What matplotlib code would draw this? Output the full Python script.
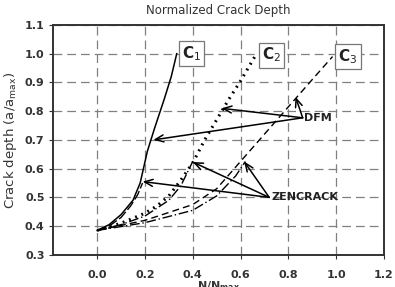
import matplotlib
matplotlib.use("Agg")
import matplotlib.pyplot as plt

# curve data
c1_x = [0, 0.05, 0.1, 0.15, 0.18, 0.21, 0.24, 0.28, 0.31, 0.333]
c1_y = [0.385, 0.405, 0.44, 0.49, 0.55, 0.66, 0.74, 0.84, 0.92, 1.0]
zen1_x = [0, 0.05, 0.1, 0.14, 0.17, 0.19]
zen1_y = [0.385, 0.40, 0.43, 0.47, 0.51, 0.55]

c2_x = [0, 0.1, 0.2, 0.25, 0.3, 0.35, 0.4, 0.45, 0.5, 0.55, 0.6, 0.667]
c2_y = [0.385, 0.41, 0.445, 0.47, 0.505, 0.56, 0.62, 0.70, 0.77, 0.84, 0.905, 1.0]
zen2_x = [0, 0.1, 0.2, 0.3, 0.35, 0.4]
zen2_y = [0.385, 0.405, 0.435, 0.49, 0.54, 0.625]

c3_x = [0, 0.2, 0.4, 0.5, 0.6, 0.7, 0.8, 0.9, 0.985]
c3_y = [0.385, 0.42, 0.475, 0.53, 0.625, 0.72, 0.815, 0.91, 0.99]
zen3_x = [0, 0.2, 0.4, 0.5, 0.58, 0.62]
zen3_y = [0.385, 0.412, 0.455, 0.505, 0.575, 0.625]

x_ticks = [0.0, 0.2, 0.4, 0.6, 0.8, 1.0, 1.2]
y_ticks = [0.3, 0.4, 0.5, 0.6, 0.7, 0.8, 0.9, 1.0, 1.1]

curve_labels = ["C$_1$", "C$_2$", "C$_3$"]
curve_label_pos = [(0.396, 1.0), (0.73, 0.995), (1.05, 0.99)]

dfm_tail = (0.86, 0.777)
dfm_heads = [(0.235, 0.70), (0.52, 0.81), (0.83, 0.85)]
zen_tail = (0.72, 0.50)
zen_heads = [(0.19, 0.555), (0.40, 0.623), (0.615, 0.625)]

fig = plt.figure(figsize=(3.95, 2.87), dpi=100)
ax = fig.add_axes([0.134, 0.112, 0.838, 0.801])

ax.plot(c1_x, c1_y, "-", color="black", lw=1.1)
ax.plot(zen1_x, zen1_y, color="black", lw=1.0, dashes=(7, 2))
ax.plot(c2_x, c2_y, color="black", lw=2.2, dashes=(0.6, 1.6))
ax.plot(zen2_x, zen2_y, color="black", lw=1.0, dashes=(7, 2, 1, 2))
ax.plot(c3_x, c3_y, color="black", lw=1.0, dashes=(5, 3))
ax.plot(zen3_x, zen3_y, color="black", lw=1.0, dashes=(7, 2, 1, 2))

for lab, (lx, ly) in zip(curve_labels, curve_label_pos):
    ax.text(lx, ly, lab, ha="center", va="center", fontsize=11, fontweight="bold",
            color="#222222",
            bbox=dict(boxstyle="square,pad=0.2", fc="white", ec="#777777", lw=0.9))

ax.text(dfm_tail[0] + 0.005, dfm_tail[1], "DFM", ha="left", va="center",
        fontsize=8, fontweight="bold", color="#222222")
for hx, hy in dfm_heads:
    ax.annotate("", xy=(hx, hy), xytext=dfm_tail,
                arrowprops=dict(arrowstyle="->,head_length=0.6,head_width=0.25",
                                color="black", lw=1.1, shrinkA=0, shrinkB=0))

ax.text(zen_tail[0] + 0.01, zen_tail[1], "ZENCRACK", ha="left", va="center",
        fontsize=8, fontweight="bold", color="#222222")
for hx, hy in zen_heads:
    ax.annotate("", xy=(hx, hy), xytext=zen_tail,
                arrowprops=dict(arrowstyle="->,head_length=0.6,head_width=0.25",
                                color="black", lw=1.1, shrinkA=0, shrinkB=0))

ax.set_xlim(-0.185, 1.2)
ax.set_ylim(0.3, 1.1)
ax.set_xticks(x_ticks)
ax.set_yticks(y_ticks)
ax.set_xticklabels(["%.1f" % v for v in x_ticks], fontsize=8, fontweight="bold", color="#333333")
ax.set_yticklabels(["%.1f" % v for v in y_ticks], fontsize=8, fontweight="bold", color="#333333")
ax.tick_params(axis="x", length=3, pad=8, color="#333333")
ax.tick_params(axis="y", length=3, pad=3, color="#333333")
ax.grid(True, color="#808080", lw=0.9, dashes=(7, 4))
ax.set_axisbelow(True)
for sp in ax.spines.values():
    sp.set_linewidth(1.4)
    sp.set_color("#333333")

ax.set_title("Normalized Crack Depth", fontsize=8.5, color="#333333", pad=8)
ax.set_ylabel("Crack depth (a/a$_{\\mathrm{max}}$)", fontsize=9.5, color="#333333", labelpad=4)
ax.set_xlabel("N/N$_{\\mathbf{max}}$", fontsize=8, fontweight="bold", color="#333333", labelpad=-1)

fig.savefig("out.png", dpi=100)
